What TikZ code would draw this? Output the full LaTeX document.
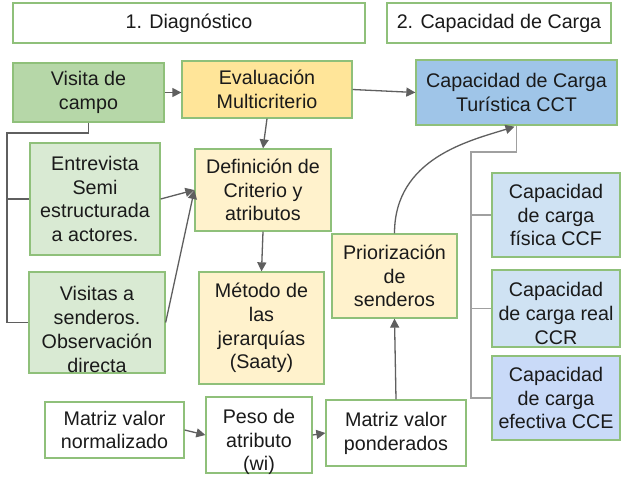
\documentclass[tikz,border=0pt]{standalone}
\usepackage{fontspec}
\setmainfont{Liberation Sans}
\usetikzlibrary{arrows.meta,calc}
\definecolor{bord}{HTML}{8FC07A}
\definecolor{txtc}{HTML}{1A1A1A}
\definecolor{linec}{HTML}{5F5F5F}
\definecolor{linelt}{HTML}{A0A0A0}
\definecolor{gDark}{HTML}{B6D7A8}
\definecolor{gLight}{HTML}{D9EAD3}
\definecolor{yDark}{HTML}{FFE599}
\definecolor{yLight}{HTML}{FFF2CC}
\definecolor{bDark}{HTML}{9FC5E8}
\definecolor{bLight}{HTML}{CFE2F3}
\definecolor{bPurp}{HTML}{C9DAF8}
\begin{document}
\begin{tikzpicture}[x=1pt,y=-1pt,
  txtf/.style={align=center,inner sep=0pt,text=txtc,font=\fontsize{19.7}{23.8}\selectfont},
  box/.style={txtf,draw=bord,line width=1.3pt},
  sz/.style 2 args={minimum width=#1,minimum height=#2},
  wbox/.style={box,fill=white},
  gdbox/.style={box,fill=gDark},
  glbox/.style={box,fill=gLight},
  ydbox/.style={box,fill=yDark},
  ylbox/.style={box,fill=yLight},
  bdbox/.style={box,fill=bDark},
  blbox/.style={box,fill=bLight},
  bpbox/.style={box,fill=bPurp},
  conn/.style={draw=linec,line width=1.3pt},
  connR/.style={draw=linelt,line width=1.3pt},
  arr/.style={conn,-{Triangle[length=9pt,width=9pt]}},
]
\useasboundingbox[fill=white] (0,0) rectangle (621,477);

% headers
\node[wbox,sz={352}{40}] (h1) at (189,23) {1. Diagnóstico};
\node[wbox,sz={224}{40}] (h2) at (499,23) {2. Capacidad de Carga};

% boxes
\node[gdbox,sz={151}{59}] (visita) at (88.5,92.5) {Visita de\\campo};
\node[ydbox,sz={170}{57}] (eval) at (267,89.5) {Evaluación\\Multicriterio};
\node[bdbox,sz={201}{65}] (cct) at (516.5,92.5) {Capacidad de Carga\\Turística CCT};

\node[glbox,sz={130}{112}] (entrev) at (95,199) {Entrevista\\Semi\\estructurada\\a actores.};
\node[glbox,sz={136}{101},label={[txtf,yshift=-7pt]center:Visitas a\\senderos.\\Observación\\directa}] (visitas) at (97,322.5) {};

\node[ylbox,sz={136}{82}] (def) at (263,190) {Definición de\\Criterio y\\atributos};
\node[ylbox,sz={125}{112}] (metodo) at (261.5,328) {Método de\\las\\jerarquías\\(Saaty)};
\node[ylbox,sz={125}{84}] (prior) at (394.5,276) {Priorización\\de\\senderos};

\node[blbox,sz={128}{84}] (ccf) at (556,215) {Capacidad\\de carga\\física CCF};
\node[blbox,sz={128}{77},label={[txtf,yshift=-5pt]center:Capacidad\\de carga real\\CCR}] (ccr) at (556,308.5) {};
\node[bpbox,sz={128}{84}] (cce) at (556,398) {Capacidad\\de carga\\efectiva CCE};

\node[wbox,sz={139}{56}] (matnorm) at (114.5,430) {Matriz valor\\normalizado};
\node[wbox,sz={106}{76},label={[txtf,yshift=-7pt]center:Peso de\\atributo\\(wi)}] (peso) at (259,435) {};
\node[wbox,sz={140}{66}] (matpon) at (396,433) {Matriz valor\\ponderados};

% left spine
\coordinate (lsp) at (7,133);
\draw[conn] (visita.south) |- (lsp) |- (visitas.west);
\draw[conn] (lsp |- entrev.west) -- (entrev.west);

% right spine
\coordinate (rsp) at (471,152);
\draw[connR] (cct.south) |- (rsp) |- (cce.west);
\draw[connR] (rsp |- ccf.west) -- (ccf.west);
\draw[connR] (rsp |- ccr.west) -- (ccr.west);

% arrows
\draw[arr] (visita.east) -- (visita.east -| eval.west);
\draw[arr] (eval.east) -- (cct.west);
\draw[arr] (eval.south) -- (def.north);
\draw[arr] (entrev.east) -- (def.west);
\draw[arr] (visitas.east) -- (def.west);
\draw[arr] (def.south) -- (metodo.north);
\draw[arr] (matnorm.east) -- (peso.west);
\draw[arr] (peso.east) -- (matpon.west);
\draw[arr] (matpon.north) -- (prior.south);
\coordinate (cctin) at ($(cct.south)+(-2,1)$);
\draw[arr] (prior.north) .. controls +(0,-75) and +(-45,14) .. (cctin);
\end{tikzpicture}
\end{document}
